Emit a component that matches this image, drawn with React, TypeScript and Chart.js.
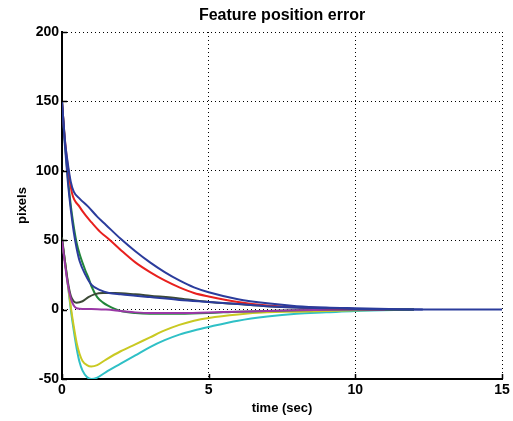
import React, { useEffect, useRef } from "react";
import { Chart, registerables } from "chart.js";

Chart.register(...registerables);

const TITLE = "Feature position error";
const X_LABEL = "time (sec)";
const Y_LABEL = "pixels";

const X_TICKS = [0, 5, 10, 15];
const Y_TICKS = [-50, 0, 50, 100, 150, 200];

// time (sec) and value (pixels) pairs for each trajectory
const lowerBlueT = [0, 0.1, 0.2, 0.3, 0.4, 0.5, 0.6, 0.8, 1, 1.3, 1.6, 2, 2.5, 3, 4, 5, 6, 7, 8, 10, 12, 15];
const lowerBlueV = [150, 118, 92, 72, 56, 44, 35, 25, 18, 14, 12, 11, 10, 9, 7, 5.5, 4, 2.5, 1.5, 0.5, 0, 0];

const upperBlueT = [0, 0.1, 0.2, 0.3, 0.4, 0.6, 0.9, 1.2, 1.5, 2, 2.5, 3, 3.5, 4, 4.5, 5, 6, 7, 8, 9, 10, 12.3];
const upperBlueV = [150, 122, 105, 92, 85, 80, 74, 67, 61, 51, 42, 34, 27, 21, 16, 12.5, 7.5, 4.5, 2.5, 1.5, 1, 0];

const redT = [0, 0.1, 0.2, 0.34, 0.6, 0.8, 1, 1.3, 1.64, 2, 2.5, 3, 3.5, 4, 4.5, 5, 6, 7, 8, 9, 10, 11];
const redV = [150, 122, 103, 84, 74, 68, 63, 56, 50, 43, 34, 27, 21, 16, 12, 9.5, 5.5, 3, 1.8, 1, 0.5, 0.2];

const greenT = [0, 0.1, 0.2, 0.3, 0.4, 0.5, 0.6, 0.8, 0.9, 1, 1.2, 1.4, 1.6, 1.8, 2, 2.5, 3, 4, 5, 6, 7, 8, 10, 12];
const greenV = [150, 120, 95, 75, 60, 48, 40, 28, 23, 17, 9, 5, 2.5, 0.5, -1, -2.5, -3, -3, -2.5, -1.5, -1, -0.5, 0, 0];

const darkT = [0, 0.1, 0.2, 0.3, 0.4, 0.5, 0.7, 0.9, 1.1, 1.4, 1.8, 2.5, 3, 4, 5, 6, 7, 8, 10, 12];
const darkV = [52, 35, 20, 10, 6, 5, 6, 9, 11, 12, 12, 11, 10, 8, 5.5, 4, 2.5, 1.5, 0.5, 0];

const magentaT = [0, 0.1, 0.2, 0.3, 0.4, 0.5, 0.7, 1, 1.5, 2, 2.5, 3, 4, 5, 6, 7, 8, 10, 11];
const magentaV = [50, 33, 18, 8, 3, 1, 0.5, 0.5, 0, -1, -2, -2.5, -2.5, -2, -1.5, -1, -0.5, 0, 0];

const yellowT = [0, 0.1, 0.2, 0.3, 0.4, 0.5, 0.6, 0.7, 0.85, 1, 1.2, 1.5, 2, 2.5, 3, 3.5, 4, 4.5, 5, 6, 7, 8, 9, 10, 12];
const yellowV = [50, 35, 18, 2, -12, -24, -32, -37, -40, -41, -40, -36, -30, -25, -20, -15, -11, -8, -6, -3.5, -2, -1.5, -1, -0.5, 0];

const cyanT = [0, 0.1, 0.2, 0.3, 0.4, 0.5, 0.6, 0.7, 0.85, 1, 1.2, 1.5, 2, 2.5, 3, 3.5, 4, 4.5, 5, 6, 7, 8, 9, 10, 12];
const cyanV = [50, 35, 18, 0, -15, -28, -38, -44, -48.5, -50, -49, -45, -39, -33, -27, -22, -18, -15, -12.5, -8, -5, -3, -2, -1, 0];

const toPoints = (t: number[], v: number[]) => t.map((x, i) => ({ x, y: v[i] }));

const FONT = "'Liberation Sans', Arial, Helvetica, sans-serif";

// small solid tick marks pointing into the plot, placed through the scales
const innerTicks = {
  id: "innerTicks",
  afterDraw(chart: any) {
    const { ctx, chartArea, scales } = chart;
    ctx.save();
    ctx.strokeStyle = "#000";
    ctx.lineWidth = 1.5;
    ctx.beginPath();
    for (const v of Y_TICKS) {
      const y = Math.round(scales.y.getPixelForValue(v)) + 0.5;
      ctx.moveTo(chartArea.left, y);
      ctx.lineTo(chartArea.left + 5, y);
    }
    for (const v of X_TICKS) {
      const x = Math.round(scales.x.getPixelForValue(v)) + 0.5;
      ctx.moveTo(x, chartArea.bottom);
      ctx.lineTo(x, chartArea.bottom - 5);
    }
    ctx.stroke();
    ctx.restore();
  },
};

export default function App() {
  const ref = useRef<HTMLCanvasElement | null>(null);

  useEffect(() => {
    document.body.style.margin = "0";
    const canvas = ref.current;
    if (!canvas) return;
    const ds = (label: string, t: number[], v: number[], color: string) => ({
      label,
      data: toPoints(t, v),
      borderColor: color,
      backgroundColor: color,
      borderWidth: 2,
      pointRadius: 0,
      cubicInterpolationMode: "monotone" as const,
      fill: false,
      xAxisID: "x",
      yAxisID: "y",
    });
    const chart = new Chart(canvas, {
      type: "line",
      data: {
        datasets: [
          ds("e1", lowerBlueT, lowerBlueV, "#2b3c9c"),
          ds("e2", upperBlueT, upperBlueV, "#2b3c9c"),
          ds("e3", redT, redV, "#e8201e"),
          ds("e4", magentaT, magentaV, "#9a38a6"),
          ds("e5", darkT, darkV, "#3c4a36"),
          ds("e6", greenT, greenV, "#22863a"),
          ds("e7", yellowT, yellowV, "#c9c922"),
          ds("e8", cyanT, cyanV, "#2fc0c6"),
        ],
      },
      plugins: [innerTicks],
      options: {
        responsive: false,
        animation: false,
        layout: { padding: { left: 0, right: 11, top: 0, bottom: 0 } },
        plugins: {
          legend: { display: false },
          tooltip: { enabled: false },
          title: { display: false },
        },
        scales: {
          top: {
            type: "linear",
            axis: "x",
            position: "top",
            min: 0,
            max: 15,
            afterFit: (s: any) => {
              s.height = 32;
            },
            ticks: { display: false },
            grid: { display: false, drawTicks: false },
            border: { display: false },
            title: {
              display: true,
              text: TITLE,
              color: "#000",
              font: { family: FONT, size: 16, weight: "bold" },
              padding: { top: 6, bottom: 6 },
            },
          },
          x: {
            type: "linear",
            position: "bottom",
            min: 0,
            max: 15,
            afterBuildTicks: (s: any) => {
              s.ticks = X_TICKS.map((value) => ({ value }));
            },
            afterFit: (s: any) => {
              s.height = 42;
            },
            ticks: {
              color: "#000",
              font: { family: FONT, size: 14, weight: "bold" },
              padding: 3,
              maxRotation: 0,
            },
            grid: { color: "#000", lineWidth: 1, drawTicks: false },
            border: { display: true, color: "#000", width: 2, dash: [1, 3] },
            title: {
              display: true,
              text: X_LABEL,
              color: "#000",
              font: { family: FONT, size: 13, weight: "bold" },
              padding: { top: 5, bottom: 5 },
            },
          },
          y: {
            type: "linear",
            position: "left",
            min: -50,
            max: 200,
            afterBuildTicks: (s: any) => {
              s.ticks = Y_TICKS.map((value) => ({ value }));
            },
            afterFit: (s: any) => {
              s.width = 62;
            },
            ticks: {
              color: "#000",
              font: { family: FONT, size: 14, weight: "bold" },
              padding: 3,
            },
            grid: { color: "#000", lineWidth: 1, drawTicks: false },
            border: { display: true, color: "#000", width: 2, dash: [1, 3] },
            title: {
              display: true,
              text: Y_LABEL,
              color: "#000",
              font: { family: FONT, size: 13, weight: "bold" },
              padding: { top: 15, bottom: 0 },
            },
          },
        },
      },
    });
    return () => chart.destroy();
  }, []);

  return (
    <div style={{ position: "absolute", left: 0, top: 0, width: 513, height: 421, background: "#fff" }}>
      <canvas ref={ref} width={513} height={421} />
    </div>
  );
}
